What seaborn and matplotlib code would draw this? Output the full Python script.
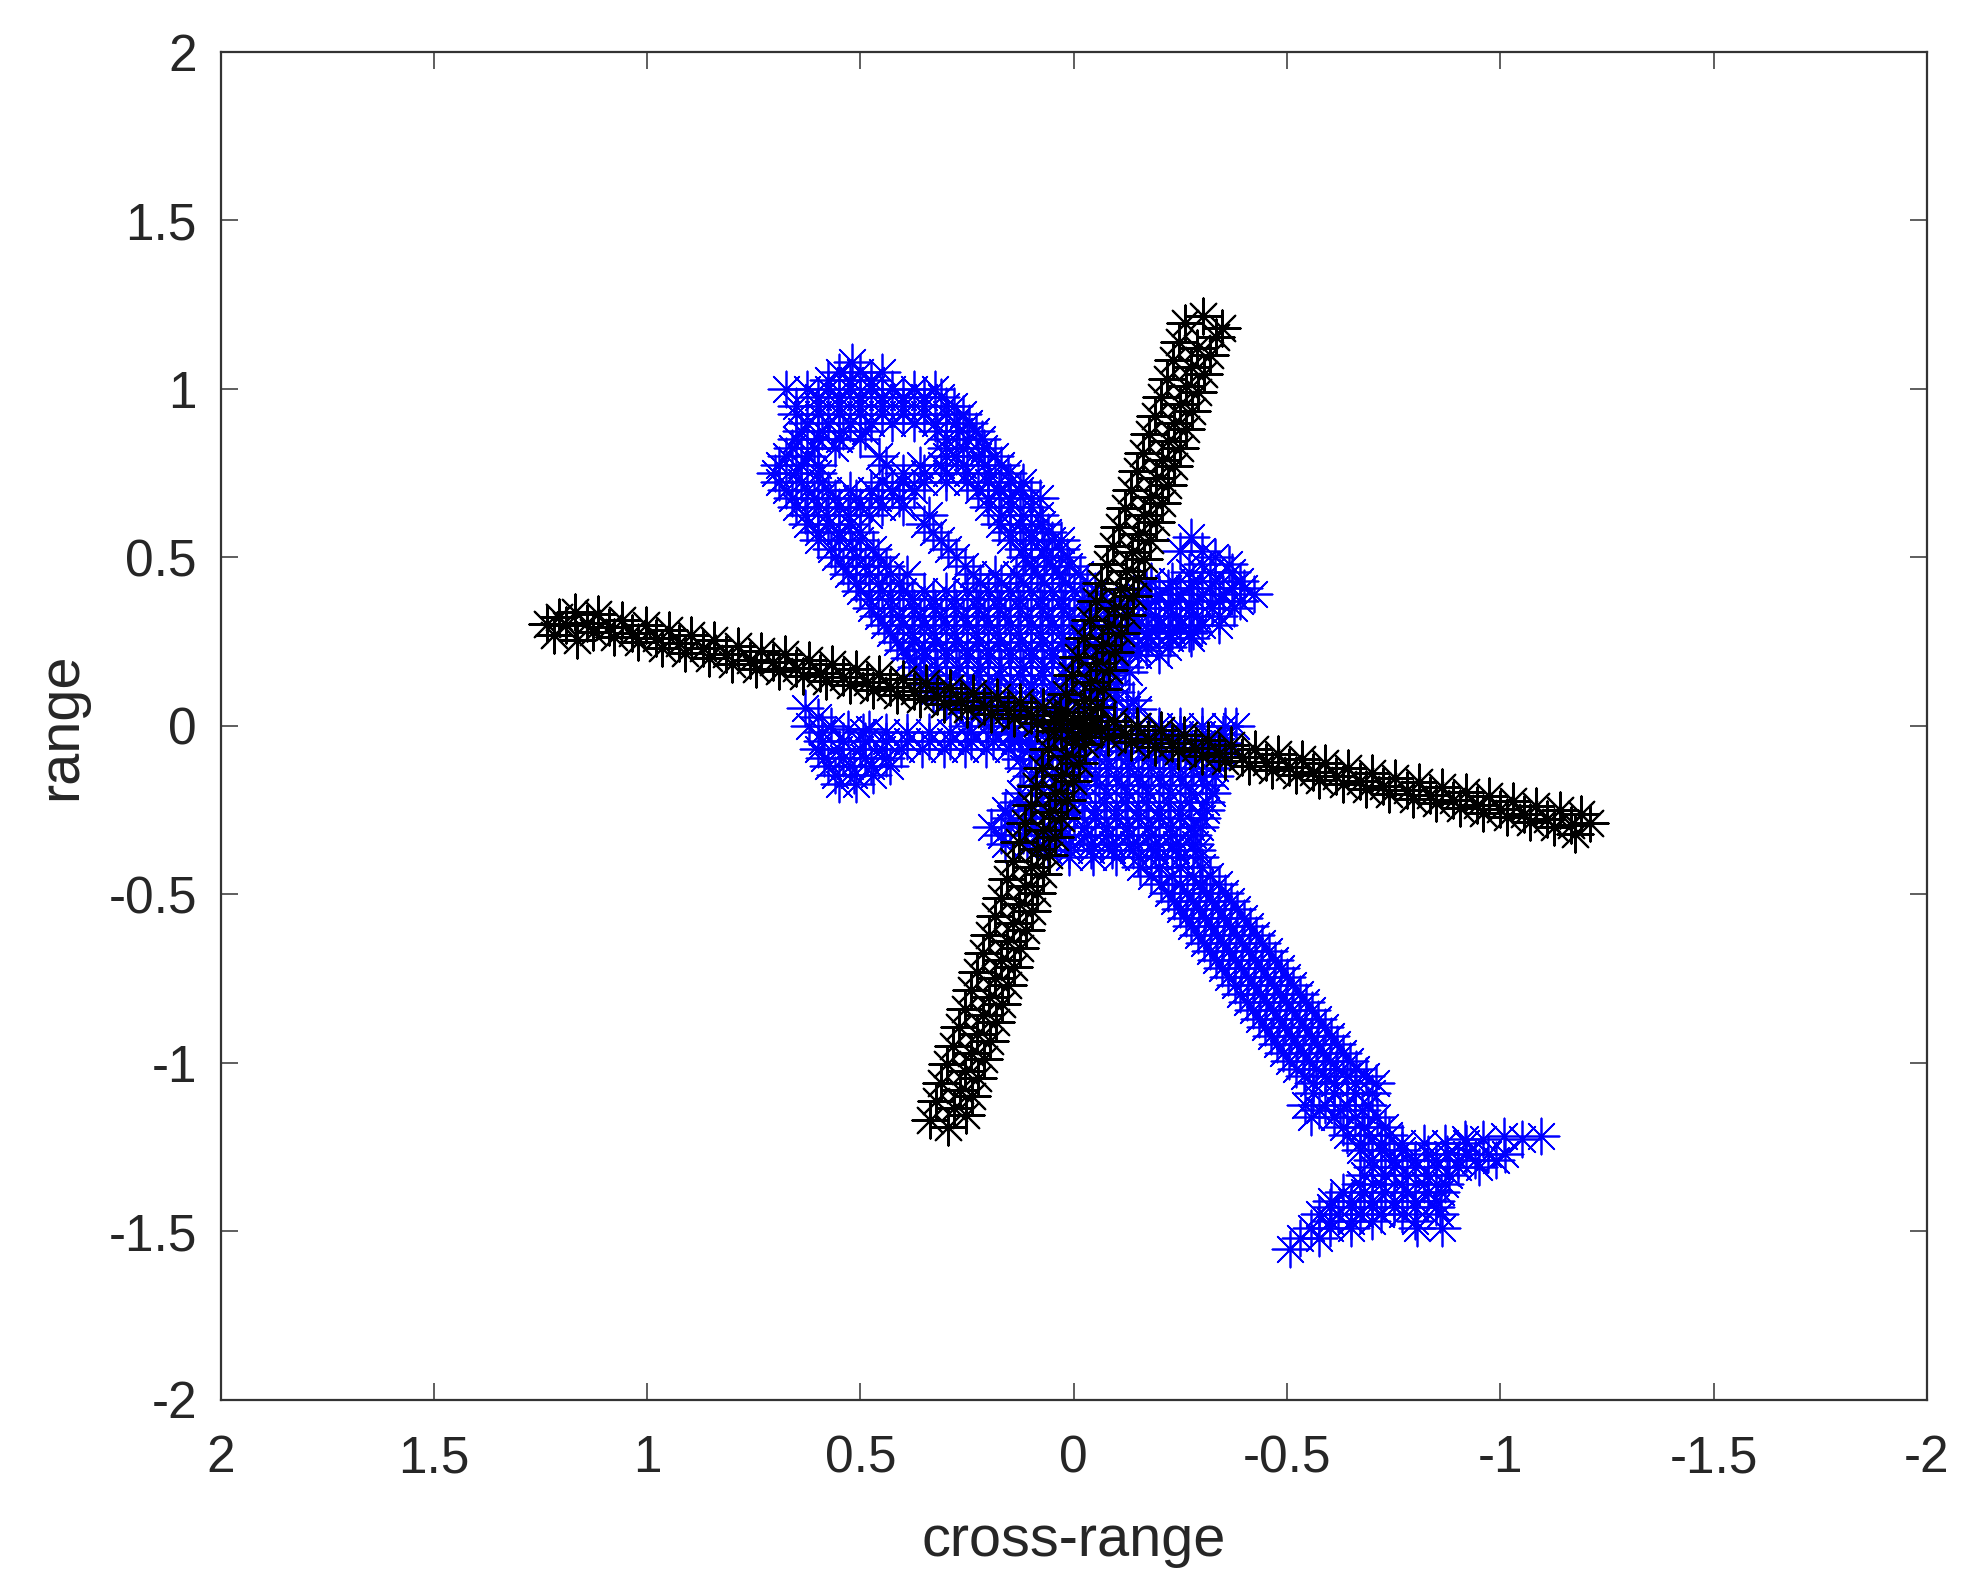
import matplotlib
matplotlib.use("Agg")
import matplotlib.pyplot as plt
import pandas as pd
import seaborn as sns

# ---- helicopter body: rows of scatterers (range value, cross-range values) ----
nose_y = [1.08, 1.05, 1.00, .95, .90, .85, .80, .75, .70, .65, .60, .55, .50, .45, .40, .35, .30]
nose_x = [
    [.52],
    [.55, .50, .45],
    [.675, .625, .575, .525, .475, .425, .375, .325],
    [.65, .6, .55, .5, .45, .4, .35, .3, .28],
    [.625, .575, .525, .475, .425, .375, .325, .275, .245],
    [.65, .6, .55, .5, .3, .25, .215],
    [.675, .625, .457, .30, .275, .225, .185],
    [.70, .65, .60, .40, .35, .30, .25, .2, .155],
    [.675, .625, .575, .525, .475, .425, .375, .225, .175, .125],
    [.65, .6, .55, .5, .45, .40, .2, .15, .1],
    [.625, .575, .525, .35, .175, .125, .075],
    [.60, .55, .50, .31, .15, .10, .05, .03],
    [.56, .51, .46, .275, .115, .065, .015],
    [.53, .48, .43, .39, .235, .185, .135, .085, .035, -.015],
    [.50, .45, .40, .35, .30, .25, .2, .15, .1, .05, 0, -.05],
    [.475, .425, .375, .325, .275, .225, .175, .125, .075, .025, -.025, -.075],
    [.445, .40, .35, .30, .25, .2, .15, .1, .05, 0, -.05, -.1],
]
nose_fill_y = [1.025, .975, .925, .875, .825, .775, .725, .675, .625, .575, .525, .475, .425, .375, .325]
nose_fill_x = [
    [.575, .525, .475],
    [.60, .55, .50, .45, .40, .35, .31],
    [.65, .60, .55, .50, .45, .40, .35, .30, .26],
    [.64, .59, .54, .49, .32, .27, .23],
    [.66, .61, .56, .30, .26, .21],
    [.69, .64, .60, .44, .36, .31, .26, .21, .17],
    [.69, .64, .59, .45, .40, .35, .30, .25, .2, .15, .12],
    [.66, .61, .56, .51, .46, .41, .20, .15, .10, .08],
    [.63, .58, .53, .48, .34, .17, .12, .08],
    [.60, .55, .50, .33, .15, .10, .06],
    [.57, .52, .47, .295, .12, .07, .03],
    [.54, .49, .44, .255, .10, .05, .01],
    [.51, .46, .41, .22, .17, .12, .07, .02, -.03],
    [.48, .43, .38, .33, .28, .23, .18, .13, .08, .03, -.02, -.07],
    [.46, .41, .36, .31, .26, .21, .16, .11, .06, .01, -.04, -.09],
]
upper_wing_y = [.56, .52, .50, .48, .455, .43, .41, .39, .37, .35, .325, .30, .28, .26, .235, .21, .16]
upper_wing_x = [
    [-.275],
    [-.25, -.30],
    [-.33],
    [-.30, -.365],
    [-.27, -.32, -.37],
    [-.18, -.23, -.28, -.33, -.39],
    [-.17, -.22, -.27, -.32, -.37, -.40],
    [-.15, -.20, -.25, -.30, -.35, -.423],
    [-.14, -.19, -.24, -.29, -.34, -.39],
    [-.125, -.175, -.225, -.275, -.325, -.375],
    [-.14, -.19, -.24, -.29, -.34],
    [-.15, -.20, -.25, -.30, -.34],
    [-.13, -.18, -.23, -.28],
    [-.125, -.175, -.225, -.275],
    [-.12, -.17, -.22],
    [-.10, -.15, -.2],
    [-.08, -.13],
]
mid_body_y = [.25, .20, .15, .10, .05, 0, -.05, -.10, -.15, -.20, -.25, -.30, -.35, -.39, -.42]
mid_body_x = [
    [.415, .375, .325, .275, .225, .175, .125, .075, .025, -.025, -.075],
    [.385, .35, .30, .25, .2, .15, .1, .05, 0, -.05],
    [.36, .325, .275, .225, .175, .125, .075, .025, -.025, -.075],
    [.33, .30, .25, .2, .15, .1, .05, 0, -.05, -.10],
    [.275, .225, .175, .125, .075, .025, -.025, -.075, -.125, -.15],
    [.25, .2, .15, .1, .05, 0, -.05, -.1, -.15, -.2, -.25, -.30, -.355, -.38],
    [.10, .05, 0, -.05, -.1, -.15, -.2, -.25, -.30, -.35],
    [.125, .075, .025, -.025, -.075, -.125, -.175, -.225, -.275, -.325],
    [.10, .05, 0, -.05, -.1, -.15, -.2, -.25, -.30, -.33],
    [.125, .075, .025, -.025, -.075, -.125, -.175, -.225, -.275, -.325],
    [.16, .10, .05, 0, -.05, -.1, -.15, -.2, -.25, -.31],
    [.194, .15, .09, .025, -.025, -.075, -.125, -.175, -.225, -.275, -.295],
    [.16, .11, .06, .01, -.04, -.09, -.14, -.19, -.24, -.285],
    [.011, -.045, -.099, -.15, -.2, -.25, -.296],
    [-.156, -.2, -.25, -.3],
]
mid_fill_y = [.275, .225, .175, .125, .075, -.025, -.075, -.125, -.175, -.225, -.275, -.325, -.37, -.445]
mid_fill_x = [
    [.43, .38, .33, .28, .23, .18, .13, .08, .03, -.02, -.07, -.12, -.17, -.22, -.27],
    [.40, .35, .30, .25, .2, .15, .1, .05, 0, -.05, -.1, -.15],
    [.37, .32, .27, .22, .17, .12, .07, .02, -.03, -.08, -.12],
    [.345, .30, .25, .20, .15, .10, .05, 0, -.05, -.10],
    [.30, .25, .20, .15, .10, .05, 0, -.05, -.10, -.14],
    [.15, .10, .05, 0, -.05, -.1, -.15, -.2, -.25, -.3, -.35],
    [.09, .04, -.01, -.06, -.11, -.16, -.21, -.26, -.31, -.345],
    [.12, .07, .02, -.03, -.08, -.13, -.18, -.23, -.28, -.33],
    [.09, .04, -.01, -.06, -.11, -.16, -.21, -.26, -.31],
    [.13, .08, .03, -.02, -.07, -.12, -.17, -.22, -.27, -.31],
    [.15, .10, .05, 0, -.05, -.1, -.15, -.2, -.25, -.30],
    [.17, .12, .07, .02, -.03, -.08, -.13, -.18, -.23, -.28],
    [.06, .01, -.04, -.09, -.14, -.19, -.24, -.29],
    [-.18, -.23, -.28, -.32],
]
left_wing_y = [.052, .025, 0, -.01, -.02, -.045, -.07, -.095, -.12, -.145, -.173]
left_wing_x = [
    [.629],
    [.60],
    [.62, .57],
    [.53, .48],
    [.59, .495, .44, .39, .34, .29, .24, .19, .14],
    [.59, .54, .49, .44, .39, .34, .29, .24, .19, .14],
    [.60, .55, .50, .45, .405, .355, .305, .255, .205, .155, .105],
    [.585, .54, .49, .44],
    [.575, .525, .475, .43],
    [.56, .515, .47],
    [.55, .51],
]
tail_y = [-.47, -.52, -.57, -.62, -.67, -.72, -.77, -.82, -.87, -.92, -.97, -1.02, -1.06, -1.126, -1.16, -1.215]
tail_x = [
    [-.205, -.25, -.295, -.34],
    [-.234, -.279, -.324, -.369],
    [-.262, -.307, -.352, -.398],
    [-.291, -.336, -.381, -.427],
    [-.32, -.365, -.41, -.457],
    [-.348, -.393, -.44, -.486],
    [-.377, -.423, -.469, -.515],
    [-.405, -.451, -.497, -.544],
    [-.434, -.48, -.527, -.573],
    [-.463, -.51, -.556, -.603],
    [-.491, -.538, -.585, -.632],
    [-.52, -.567, -.614, -.661],
    [-.56, -.61, -.66, -.709],
    [-.543, -.59, -.64, -.69],
    [-.555, -.61, -.66, -.71],
    [-.64, -.69, -.74],
]
tail_fill_y = [-.495, -.545, -.595, -.645, -.695, -.745, -.795, -.845, -.895, -.945, -.995, -1.04, -1.09, -1.14, -1.19]
tail_fill_x = [
    [-.22, -.265, -.31, -.355],
    [-.248, -.293, -.338, -.383],
    [-.276, -.321, -.366, -.412],
    [-.305, -.35, -.395, -.442],
    [-.334, -.379, -.425, -.471],
    [-.362, -.408, -.454, -.5],
    [-.39, -.437, -.483, -.53],
    [-.42, -.466, -.512, -.558],
    [-.448, -.495, -.542, -.588],
    [-.477, -.524, -.57, -.617],
    [-.505, -.552, -.6, -.647],
    [-.54, -.59, -.64, -.685],
    [-.56, -.61, -.66, -.70],
    [-.575, -.625, -.675],
    [-.63, -.68, -.73],
]
fin_y = [-1.218, -1.228, -1.24, -1.26, -1.27, -1.29, -1.31, -1.335, -1.36, -1.385, -1.41, -1.43, -1.45, -1.47, -1.49, -1.52, -1.554]
fin_x = [
    [-1.095, -1.009],
    [-.918, -.96, -1.05],
    [-.67, -.72, -.77, -.82, -.87, -.92],
    [-.67, -.72, -.77],
    [-.83, -.875, -.92, -.97, -1.01],
    [-.70, -.75, -.80, -.85, -.90, -.94, -.99],
    [-.70, -.75, -.80, -.85, -.90, -.95],
    [-.68, -.73, -.78, -.83, -.88],
    [-.67, -.72, -.77, -.82, -.87],
    [-.63, -.68, -.73, -.78, -.83, -.86],
    [-.604, -.65, -.70, -.75, -.80, -.85],
    [-.60, -.65, -.70, -.75, -.80, -.85],
    [-.575, -.62, -.67, -.72, -.77, -.859],
    [-.60, -.65, -.70, -.80],
    [-.555, -.60, -.65, -.805, -.864],
    [-.53, -.575],
    [-.506],
]

# ---- rotor blade running left to right: three parallel rows ----
blade1_top_x = [1.206, 1.168, 1.115, 1.059, 1.002, .948, .897, .843, .787, .733, .676, .621, .566, .511, .456, .401,
                .346, .291, .236, .181, .126, .071, .016, -.039, -.094, -.149, -.204, -.259, -.314, -.369, -.424,
                -.479, -.534, -.589, -.644, -.699, -.754, -.809, -.864, -.919, -.974, -1.029, -1.084, -1.139, -1.19]
blade1_top_y = [.322, .338, .332, .314, .299, .284, .269, .254, .236, .222, .213, .196, .182, .168, .154, .140,
                .126, .112, .098, .084, .070, .056, .042, .028, .014, 0, -.014, -.028, -.042, -.056, -.070,
                -.084, -.098, -.112, -.126, -.140, -.154, -.168, -.182, -.196, -.210, -.224, -.238, -.25, -.262]
blade1_bot_x = [1.218, 1.164, 1.126, 1.077, 1.021, .965, .911, .855, .801, .744, .69, .635, .58, .525, .47, .415,
                .36, .305, .25, .195, .14, .085, .03, -.025, -.08, -.135, -.19, -.245, -.30, -.355, -.41,
                -.465, -.52, -.575, -.63, -.685, -.74, -.795, -.85, -.905, -.96, -1.015, -1.07, -1.125, -1.175]
blade1_bot_y = [.269, .254, .278, .263, .248, .231, .216, .201, .183, .168, .162, .148, .134, .120, .106, .092,
                .078, .064, .05, .036, .022, .008, -.006, -.02, -.034, -.048, -.062, -.076, -.09, -.104, -.118,
                -.132, -.146, -.16, -.174, -.188, -.202, -.216, -.23, -.244, -.258, -.272, -.286, -.30, -.32]
blade1_mid_x = [1.235, 1.19, 1.14, 1.09, 1.035, .98, .925, .87, .815, .76, .705, .65, .595, .54, .485, .43,
                .375, .32, .265, .21, .155, .10, .045, -.01, -.065, -.12, -.175, -.23, -.285, -.34, -.395,
                -.45, -.505, -.56, -.615, -.67, -.725, -.78, -.835, -.89, -.945, -1.0, -1.055, -1.11, -1.165, -1.21]
blade1_mid_y = [.302, .30, .305, .292, .275, .26, .245, .23, .212, .196, .188, .172, .158, .144, .13, .116,
                .102, .088, .074, .06, .046, .032, .018, .004, -.01, -.024, -.038, -.052, -.066, -.08, -.094,
                -.108, -.122, -.136, -.15, -.164, -.178, -.192, -.206, -.22, -.234, -.248, -.262, -.276, -.295, -.29]

# ---- rotor blade running bottom to top: three parallel columns ----
blade2_left_y = [-1.17, -1.115, -1.06, -1.005, -.95, -.895, -.84, -.785, -.73, -.675, -.62, -.565, -.51, -.455, -.40,
                 -.345, -.29, -.235, -.18, -.125, -.07, -.015, .04, .095, .15, .205, .26, .315, .37, .425, .48,
                 .535, .59, .645, .70, .755, .81, .865, .92, .975, 1.03, 1.085, 1.14, 1.195]
blade2_left_x = [.338, .324, .31, .297, .283, .269, .255, .241, .227, .213, .199, .185, .171, .157, .143, .129, .115,
                 .101, .088, .074, .06, .046, .032, .018, .004, -.01, -.024, -.038, -.052, -.065, -.079, -.093,
                 -.107, -.121, -.135, -.149, -.163, -.177, -.191, -.205, -.219, -.233, -.247, -.261]
blade2_mid_y = [-1.19, -1.135, -1.08, -1.025, -.97, -.915, -.86, -.805, -.75, -.695, -.64, -.585, -.53, -.475, -.42,
                -.365, -.31, -.255, -.20, -.145, -.09, -.035, .02, .075, .13, .185, .24, .295, .35, .405, .46,
                .515, .57, .625, .68, .735, .79, .845, .90, .955, 1.01, 1.065, 1.12, 1.215]
blade2_mid_x = [.295, .281, .267, .254, .24, .226, .212, .198, .184, .17, .156, .142, .128, .114, .10, .086, .072,
                .058, .045, .031, .017, .003, -.011, -.025, -.039, -.053, -.067, -.081, -.095, -.108, -.122, -.136,
                -.15, -.164, -.178, -.192, -.206, -.22, -.234, -.248, -.262, -.276, -.29, -.304]
blade2_right_y = [-1.155, -1.10, -1.045, -.99, -.935, -.88, -.825, -.77, -.715, -.66, -.605, -.55, -.495, -.44, -.385,
                  -.33, -.275, -.22, -.165, -.11, -.055, 0, .055, .11, .165, .22, .275, .33, .385, .44, .495,
                  .55, .605, .66, .715, .77, .825, .88, .935, .99, 1.045, 1.10, 1.155, 1.18]
blade2_right_x = [.252, .238, .224, .211, .197, .183, .169, .155, .141, .127, .113, .099, .085, .071, .057, .043, .029,
                  .015, .002, -.012, -.026, -.04, -.054, -.068, -.082, -.096, -.11, -.124, -.138, -.151, -.165, -.179,
                  -.193, -.207, -.221, -.235, -.249, -.263, -.277, -.291, -.305, -.319, -.333, -.347]

tick_values = [2, 1.5, 1, .5, 0, -.5, -1, -1.5, -2]
tick_labels = ["2", "1.5", "1", "0.5", "0", "-0.5", "-1", "-1.5", "-2"]

INK = "#262626"
sns.set_theme(style="white")
plt.rcParams["font.family"] = ["Liberation Sans", "DejaVu Sans"]

blue_rows = []
for ys, xs in [(nose_y, nose_x), (nose_fill_y, nose_fill_x), (upper_wing_y, upper_wing_x),
               (mid_body_y, mid_body_x), (mid_fill_y, mid_fill_x), (left_wing_y, left_wing_x),
               (tail_y, tail_x), (tail_fill_y, tail_fill_x), (fin_y, fin_x)]:
    for y, row in zip(ys, xs):
        blue_rows += [(x, y) for x in row]
blue = pd.DataFrame(blue_rows, columns=["x", "y"])
black = pd.DataFrame({
    "x": blade1_top_x + blade1_bot_x + blade1_mid_x + blade2_left_x + blade2_mid_x + blade2_right_x,
    "y": blade1_top_y + blade1_bot_y + blade1_mid_y + blade2_left_y + blade2_mid_y + blade2_right_y,
})

fig = plt.figure(figsize=(19.87, 15.96), dpi=100, facecolor="white")
ax = fig.add_axes([220.5 / 1987, 1 - 1399.5 / 1596, (1927 - 220.5) / 1987, (1399.5 - 52) / 1596])

star = (8, 2, 0)
sns.scatterplot(data=blue, x="x", y="y", marker=star, s=676, color="#0000ff", linewidth=1.25, ax=ax, zorder=2)
sns.scatterplot(data=black, x="x", y="y", marker=star, s=676, color="#000000", linewidth=1.5, ax=ax, zorder=3)

ax.set_xlim(2, -2)
ax.set_ylim(-2, 2)
ax.set_xticks(tick_values, tick_labels)
ax.set_yticks(tick_values, tick_labels)
ax.tick_params(axis="both", direction="in", length=12, width=1.1, color="#333333",
               bottom=True, left=True, top=True, right=True, labelsize=37, labelcolor=INK)
ax.tick_params(axis="x", pad=25)
ax.tick_params(axis="y", pad=17)
for s in ax.spines.values():
    s.set_visible(True)
    s.set_linewidth(1.6)
    s.set_color("#333333")
ax.set_xlabel("cross-range", fontsize=41.5, color=INK)
ax.set_ylabel("range", fontsize=41.5, color=INK)
ax.xaxis.set_label_coords(0.5, -(1541 - 1399.5) / 1347.5, transform=ax.transAxes)
ax.xaxis.label.set_va("center")
ax.yaxis.set_label_coords(-(220.5 - 61) / 1706.5, 0.5, transform=ax.transAxes)
ax.yaxis.label.set_va("center")
ax.set_facecolor("white")
fig.savefig("out.png", dpi=100, facecolor="white")
